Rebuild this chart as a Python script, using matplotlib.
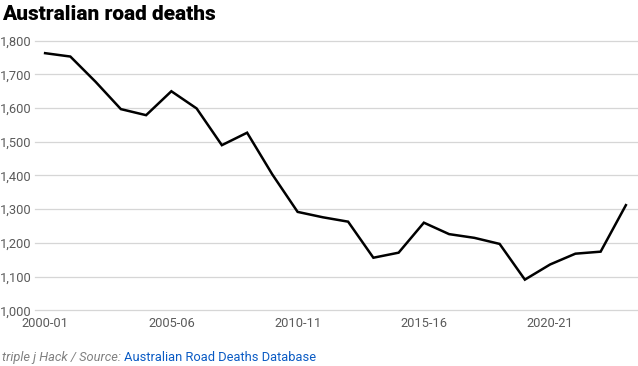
import matplotlib.pyplot as plt

# Road deaths per financial year
years = ["2000-01", "2001-02", "2002-03", "2003-04", "2004-05", "2005-06",
         "2006-07", "2007-08", "2008-09", "2009-10", "2010-11", "2011-12",
         "2012-13", "2013-14", "2014-15", "2015-16", "2016-17", "2017-18",
         "2018-19", "2019-20", "2020-21", "2021-22", "2022-23", "2023-24"]
deaths = [1763, 1753, 1678, 1597, 1579, 1650, 1599, 1490, 1527, 1403,
          1292, 1276, 1263, 1156, 1171, 1260, 1226, 1215, 1197, 1091,
          1136, 1168, 1174, 1312]
yticks = [1000, 1100, 1200, 1300, 1400, 1500, 1600, 1700, 1800]
xtick_idx = [0, 5, 10, 15, 20]

plt.rcParams["font.family"] = ["Roboto", "DejaVu Sans"]

fig = plt.figure(figsize=(6.38, 3.66), dpi=100)
ax = fig.add_axes([35 / 638, (366 - 310.3) / 366, 603 / 638, 269.6 / 366])

x = list(range(len(years)))
ax.plot(x, deaths, color="black", linewidth=1.8, solid_joinstyle="miter", zorder=3)

ax.set_xlim(-0.4, 23.48)
ax.set_ylim(1000, 1800)
ax.set_yticks(yticks)
ax.set_yticklabels([f"{v:,}" for v in yticks])
ax.set_xticks(xtick_idx)
ax.set_xticklabels([years[i] for i in xtick_idx])

ax.grid(axis="y", color="#d6d6d6", linewidth=0.9)
for gl in ax.get_ygridlines():
    gl.set_clip_on(False)
ax.set_axisbelow(True)
for s in ax.spines.values():
    s.set_visible(False)
ax.tick_params(length=0, labelsize=9.3, colors="#5a5a5a")
ax.tick_params(axis="y", pad=0)
ax.tick_params(axis="x", pad=5)
for lab in ax.get_yticklabels():
    lab.set_horizontalalignment("left")
    lab.set_x(-35 / 603)

fig.text(2 / 638, 1 - 20 / 366, "Australian road deaths", fontsize=15,
         fontweight="black", family=["Roboto", "DejaVu Sans"], color="black")

t1 = fig.text(2 / 638, 1 - 361 / 366, "triple j Hack / Source: ", fontsize=9.3,
              style="italic", color="#808080")
fig.canvas.draw()
bb = t1.get_window_extent()
fig.text(bb.x1 / fig.bbox.width, 1 - 361 / 366, "Australian Road Deaths Database",
         fontsize=9.3, color="#0a5bc4")

fig.savefig("out.png", dpi=100)
